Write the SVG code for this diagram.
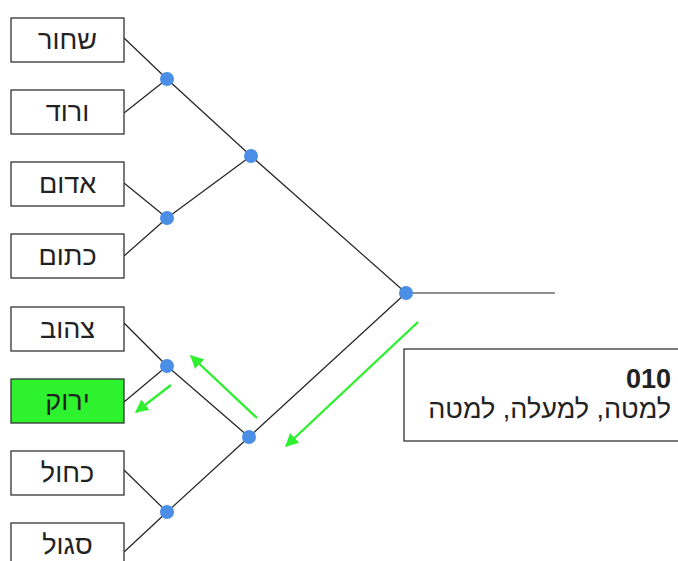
<svg xmlns="http://www.w3.org/2000/svg" width="678" height="561" viewBox="0 0 678 561">
  <defs>
    <marker id="ah" viewBox="0 0 10 10" refX="9" refY="5" markerWidth="5.5" markerHeight="5.5" markerUnits="strokeWidth" orient="auto">
      <path d="M0,0 L10,5 L0,10 z" fill="#2ef02e"/>
    </marker>
    <style>
      .box { fill: #ffffff; stroke: #333333; stroke-width: 1.3; }
      .hit { fill: #2ef22e; }
      .lbl { font-family: "Liberation Sans", "DejaVu Sans", sans-serif; font-size: 27px; fill: #222222; text-anchor: middle; }
      .edge { stroke: #222222; stroke-width: 1.2; fill: none; }
      .dot { fill: #4a8ee6; }
      .path-arrow { stroke: #2ef02e; stroke-width: 2.4; fill: none; marker-end: url(#ah); }
      .info { font-family: "Liberation Sans", "DejaVu Sans", sans-serif; font-size: 27px; fill: #222222; text-anchor: end; }
    </style>
  </defs>
  <rect width="678" height="561" fill="#ffffff"/>

  <!-- tree edges -->
  <g id="connectors">
    <line class="edge" x1="124" y1="38" x2="167" y2="79"/>
    <line class="edge" x1="124" y1="113" x2="167" y2="79"/>
    <line class="edge" x1="124" y1="183" x2="167" y2="218"/>
    <line class="edge" x1="124" y1="256" x2="167" y2="218"/>
    <line class="edge" x1="124" y1="323" x2="167" y2="366"/>
    <line class="edge" x1="124" y1="402" x2="167" y2="366"/>
    <line class="edge" x1="124" y1="470" x2="167" y2="512"/>
    <line class="edge" x1="124" y1="552" x2="167" y2="512"/>
    <line class="edge" x1="167" y1="79" x2="251" y2="156"/>
    <line class="edge" x1="167" y1="218" x2="251" y2="156"/>
    <line class="edge" x1="167" y1="366" x2="249" y2="437"/>
    <line class="edge" x1="167" y1="512" x2="249" y2="437"/>
    <line class="edge" x1="251" y1="156" x2="406" y2="293"/>
    <line class="edge" x1="249" y1="437" x2="406" y2="293"/>
    <line class="edge" x1="406" y1="293" x2="555" y2="293"/>
  </g>

  <!-- branch points -->
  <g id="joints">
    <circle class="dot" cx="167" cy="79" r="7"/>
    <circle class="dot" cx="167" cy="218" r="7"/>
    <circle class="dot" cx="167" cy="366" r="7"/>
    <circle class="dot" cx="167" cy="512" r="7"/>
    <circle class="dot" cx="251" cy="156" r="7"/>
    <circle class="dot" cx="249" cy="437" r="7"/>
    <circle class="dot" cx="406" cy="293" r="7"/>
  </g>

  <!-- leaves -->
  <g id="leaf-black">
    <rect class="box" x="11" y="18" width="113" height="44"/>
    <text class="lbl" x="67.5" y="49">שחור</text>
  </g>
  <g id="leaf-pink">
    <rect class="box" x="11" y="90" width="113" height="44"/>
    <text class="lbl" x="67.5" y="121">ורוד</text>
  </g>
  <g id="leaf-red">
    <rect class="box" x="11" y="162" width="113" height="44"/>
    <text class="lbl" x="67.5" y="193">אדום</text>
  </g>
  <g id="leaf-orange">
    <rect class="box" x="11" y="234" width="113" height="44"/>
    <text class="lbl" x="67.5" y="265">כתום</text>
  </g>
  <g id="leaf-yellow">
    <rect class="box" x="11" y="307" width="113" height="44"/>
    <text class="lbl" x="67.5" y="338">צהוב</text>
  </g>
  <g id="leaf-green">
    <rect class="box hit" x="11" y="379" width="113" height="44"/>
    <text class="lbl" x="67.5" y="410">ירוק</text>
  </g>
  <g id="leaf-blue">
    <rect class="box" x="11" y="451" width="113" height="44"/>
    <text class="lbl" x="67.5" y="482">כחול</text>
  </g>
  <g id="leaf-purple">
    <rect class="box" x="11" y="523" width="113" height="44"/>
    <text class="lbl" x="67.5" y="554">סגול</text>
  </g>

  <!-- traversal arrows -->
  <g id="route">
    <line class="path-arrow" x1="418" y1="322" x2="286" y2="446"/>
    <line class="path-arrow" x1="257" y1="418" x2="191" y2="356"/>
    <line class="path-arrow" x1="171" y1="385" x2="136" y2="412"/>
  </g>

  <!-- code panel -->
  <g id="code-panel">
    <rect class="box" x="404" y="349" width="290" height="92"/>
    <text class="info" x="671" y="388" font-weight="bold">010</text>
    <text class="info" x="671" y="418">למטה, למעלה, למטה</text>
  </g>
</svg>
